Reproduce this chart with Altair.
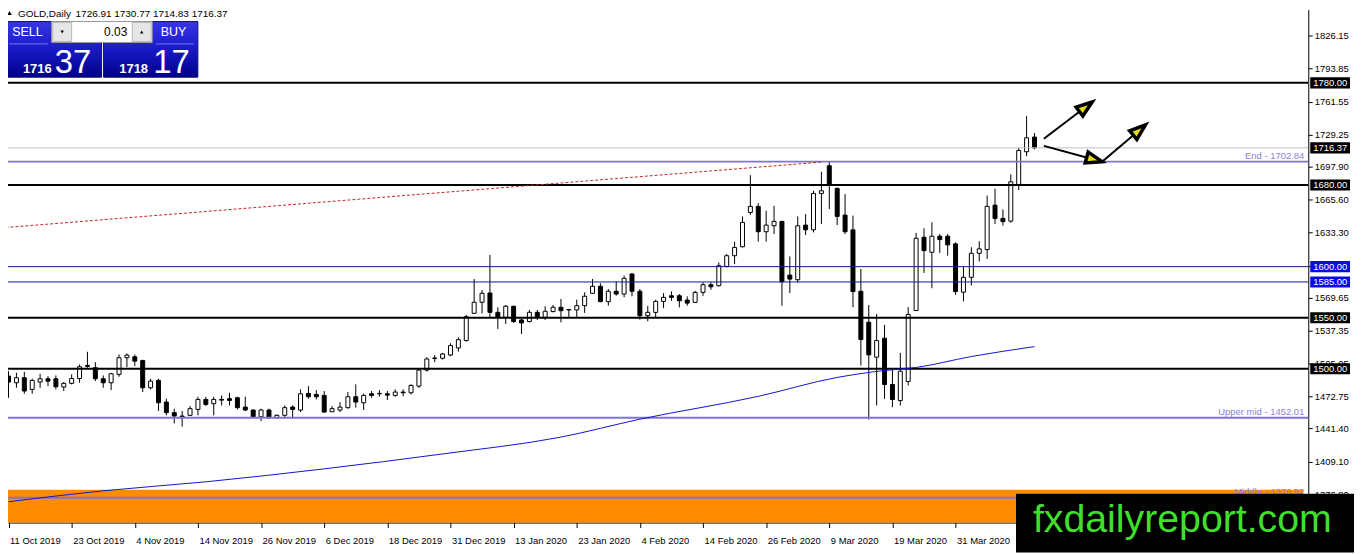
import math
import pandas as pd
import altair as alt

# ---------------- data ----------------
date_labels = ["11 Oct 2019", "23 Oct 2019", "4 Nov 2019", "14 Nov 2019", "26 Nov 2019",
               "6 Dec 2019", "18 Dec 2019", "31 Dec 2019", "13 Jan 2020", "23 Jan 2020",
               "4 Feb 2020", "14 Feb 2020", "26 Feb 2020", "9 Mar 2020", "19 Mar 2020",
               "31 Mar 2020"]

opens = [1492.8, 1486.3, 1491.2, 1479.8, 1487.0, 1490.2, 1490.2, 1482.1, 1485.7, 1490.5,
         1503.3, 1501.0, 1490.2, 1486.3, 1494.5, 1510.8, 1511.7, 1508.2, 1481.4, 1488.6,
         1467.4, 1457.0, 1453.7, 1454.4, 1460.2, 1470.0, 1465.8, 1470.0, 1470.7, 1471.6,
         1462.5, 1459.6, 1453.0, 1459.6, 1452.0, 1454.4, 1462.5, 1459.6, 1475.9, 1474.9,
         1473.9, 1457.9, 1459.6, 1461.9, 1472.6, 1466.7, 1475.5, 1475.5, 1475.5, 1473.9,
         1477.2, 1476.5, 1483.0, 1498.7, 1510.0, 1510.3, 1513.5, 1520.4, 1527.6, 1554.3,
         1565.1, 1574.2, 1555.3, 1550.4, 1561.2, 1547.8, 1546.2, 1555.3, 1550.4, 1556.0,
         1560.2, 1558.0, 1557.6, 1561.8, 1573.9, 1580.8, 1565.7, 1575.9, 1573.2, 1592.8,
         1575.9, 1552.0, 1555.2, 1566.0, 1571.5, 1571.5, 1567.3, 1565.0, 1574.8, 1582.3,
         1581.3, 1600.2, 1610.7, 1619.5, 1653.1, 1659.0, 1634.2, 1640.1, 1644.3, 1591.7,
         1587.2, 1640.7, 1636.1, 1671.7, 1698.8, 1676.6, 1650.5, 1636.0, 1575.9, 1545.6,
         1511.3, 1529.9, 1484.6, 1468.9, 1487.5, 1557.0, 1628.8, 1614.1, 1629.8, 1629.8,
         1622.3, 1575.0, 1589.6, 1613.1, 1616.7, 1660.2, 1647.3, 1644.6, 1680.5, 1712.5,
         1726.91]
highs = [1497.7, 1496.1, 1497.0, 1490.2, 1495.1, 1492.8, 1493.5, 1487.0, 1494.5, 1504.2,
         1516.6, 1506.5, 1493.5, 1496.1, 1514.0, 1515.0, 1514.0, 1508.2, 1490.2, 1490.2,
         1470.7, 1460.9, 1458.6, 1463.5, 1472.6, 1472.6, 1472.6, 1473.9, 1476.5, 1472.6,
         1472.6, 1460.2, 1460.9, 1460.9, 1455.3, 1464.1, 1464.1, 1479.8, 1483.0, 1479.1,
         1478.2, 1463.5, 1467.4, 1477.2, 1484.7, 1475.9, 1478.2, 1479.1, 1478.2, 1479.8,
         1479.8, 1484.7, 1500.0, 1511.3, 1513.5, 1515.5, 1525.0, 1530.8, 1552.7, 1587.9,
         1577.2, 1611.4, 1560.2, 1562.5, 1561.8, 1548.8, 1557.6, 1557.6, 1561.2, 1562.5,
         1568.4, 1558.6, 1567.7, 1574.9, 1587.9, 1583.7, 1578.1, 1585.6, 1591.2, 1593.8,
         1578.1, 1561.5, 1567.6, 1574.1, 1575.8, 1573.1, 1570.9, 1576.4, 1584.6, 1584.6,
         1604.1, 1612.3, 1624.4, 1649.2, 1689.6, 1662.2, 1654.7, 1659.6, 1644.9, 1610.0,
         1649.2, 1651.5, 1674.3, 1692.9, 1702.7, 1677.6, 1671.0, 1650.0, 1597.8, 1562.5,
         1553.7, 1543.0, 1499.9, 1515.6, 1560.3, 1633.0, 1637.6, 1643.5, 1632.0, 1632.0,
         1623.9, 1600.4, 1619.0, 1624.9, 1669.6, 1676.3, 1656.0, 1690.3, 1716.4, 1747.4,
         1730.77]
lows = [1471.6, 1481.4, 1475.5, 1475.5, 1481.4, 1483.0, 1479.8, 1478.2, 1484.7, 1486.3,
        1501.0, 1487.9, 1481.4, 1479.1, 1492.2, 1501.6, 1502.6, 1477.2, 1479.8, 1458.6,
        1454.4, 1446.5, 1443.3, 1453.7, 1454.4, 1463.5, 1454.4, 1464.1, 1464.1, 1460.2,
        1458.6, 1452.0, 1448.8, 1451.0, 1451.0, 1452.0, 1451.0, 1457.6, 1470.7, 1470.0,
        1457.0, 1457.6, 1457.6, 1460.9, 1461.9, 1459.6, 1471.6, 1472.6, 1469.3, 1472.6,
        1473.0, 1474.9, 1481.4, 1497.2, 1506.4, 1509.0, 1512.2, 1516.8, 1526.6, 1553.7,
        1554.3, 1550.4, 1539.0, 1543.9, 1544.9, 1534.1, 1545.5, 1547.8, 1547.8, 1555.3,
        1545.5, 1550.4, 1550.4, 1554.7, 1573.2, 1565.1, 1561.8, 1571.6, 1570.0, 1571.0,
        1548.1, 1546.5, 1550.3, 1559.4, 1566.6, 1560.1, 1561.7, 1564.3, 1571.5, 1577.4,
        1580.6, 1599.2, 1602.5, 1618.8, 1650.5, 1624.4, 1624.4, 1631.9, 1561.7, 1574.1,
        1584.6, 1630.9, 1633.5, 1641.7, 1656.4, 1640.7, 1631.9, 1560.3, 1503.2, 1450.3,
        1464.0, 1470.5, 1462.4, 1464.0, 1483.6, 1557.0, 1593.9, 1578.9, 1613.4, 1610.8,
        1572.3, 1566.1, 1581.5, 1605.0, 1607.6, 1641.8, 1640.3, 1643.0, 1675.0, 1708.2,
        1714.83]
closes = [1487.0, 1491.2, 1478.2, 1488.6, 1490.2, 1487.9, 1482.4, 1485.7, 1490.5, 1502.0,
          1502.3, 1490.2, 1486.3, 1495.1, 1510.8, 1513.4, 1507.5, 1481.4, 1487.9, 1466.7,
          1457.0, 1453.7, 1453.0, 1460.9, 1470.0, 1465.1, 1470.0, 1469.3, 1469.0, 1461.9,
          1459.6, 1453.0, 1459.6, 1452.0, 1454.4, 1461.9, 1460.2, 1475.5, 1472.6, 1472.6,
          1457.6, 1460.9, 1462.5, 1472.6, 1467.4, 1473.9, 1473.9, 1475.9, 1474.2, 1477.2,
          1476.5, 1483.7, 1498.7, 1509.6, 1510.6, 1514.5, 1522.7, 1528.5, 1551.0, 1565.1,
          1573.9, 1555.3, 1550.4, 1561.2, 1546.2, 1544.9, 1555.3, 1550.4, 1556.3, 1560.2,
          1556.9, 1557.6, 1561.8, 1571.0, 1580.8, 1565.7, 1575.9, 1573.2, 1588.6, 1575.9,
          1552.0, 1555.3, 1566.0, 1569.9, 1569.9, 1566.6, 1564.3, 1574.8, 1582.3, 1580.3,
          1600.9, 1610.7, 1618.8, 1643.3, 1659.0, 1634.2, 1640.7, 1644.3, 1585.2, 1587.8,
          1640.0, 1636.1, 1671.7, 1674.3, 1680.8, 1649.2, 1634.2, 1575.6, 1528.6, 1513.6,
          1527.6, 1484.6, 1469.9, 1497.6, 1553.1, 1627.8, 1615.7, 1629.8, 1626.5, 1621.3,
          1575.6, 1589.6, 1613.1, 1617.4, 1659.1, 1647.2, 1644.1, 1683.1, 1713.8, 1726.2,
          1716.37]

# moving average (read at several bars)
ma_bar = [0, 12, 25, 40, 55, 70, 80, 95, 105, 111, 115, 122, 130]
ma_val = [1369.8, 1380.5, 1389.3, 1402.0, 1416.6, 1433.1, 1450.6, 1473.0, 1491.5,
          1498.3, 1501.3, 1512.0, 1521.7]

# dotted trend line
trend_bar = [-1, 103]
trend_val = [1637.9, 1702.4]

black_levels = [1780.0, 1680.0, 1550.0, 1500.0]
navy_levels = [1600.0, 1585.0]
fibo_levels = [1702.84, 1452.01, 1373.7]
fibo_names = ["End - 1702.84", "Upper mid - 1452.01", "Middle - 1376.52"]
current_price = 1716.37
zone_top = 1381.5

ytick_values = [1826.15, 1793.85, 1761.55, 1729.25, 1697.90, 1665.60, 1633.30, 1601.00,
                1569.65, 1537.35, 1505.05, 1472.75, 1441.40, 1409.10, 1376.80]

tag_values = [1780.00, 1716.37, 1680.00, 1600.00, 1585.00, 1550.00, 1500.00]
tag_kind = ["level", "bid", "level", "blue", "blue", "level", "level"]

# hand-drawn arrows (bar index, price)
arr_x1 = [131.19, 131.19, 138.56]
arr_y1 = [1725.2, 1718.3, 1702.8]
arr_x2 = [137.31, 138.56, 144.06]
arr_y2 = [1761.2, 1702.8, 1738.8]

symbol_title = "GOLD,Daily"
lot = "0.03"
sell_big, sell_small = "1716", "37"
buy_big, buy_small = "1718", "17"
logo_text = "fxdailyreport.com"

# ---------------- layout ----------------
W, H = 1308, 516
X_DOM = [0.5625, 164.0625]
Y_DOM = [1349.4, 1851.7]
px_per_bar = W / (X_DOM[1] - X_DOM[0])
px_per_price = H / (Y_DOM[1] - Y_DOM[0])
FONT = "Liberation Sans"

xs = alt.Scale(domain=X_DOM, zero=False, nice=False)
ys = alt.Scale(domain=Y_DOM, zero=False, nice=False)

n = len(opens)
candles = pd.DataFrame({
    "i": list(range(n)), "o": opens, "h": highs, "l": lows, "c": closes,
})
candles["fill"] = ["#ffffff" if c >= o else "#000000" for o, c in zip(opens, closes)]

label_js = "[" + ",".join("'" + s + "'" for s in date_labels) + "]"
x_axis = alt.Axis(values=list(range(0, 8 * len(date_labels), 8)),
                  labelExpr=label_js + "[floor(datum.value / 8)]",
                  title=None, grid=False, orient="bottom", tickSize=5,
                  tickColor="black", domainColor="black", labelAlign="left",
                  labelBaseline="top", labelPadding=8, labelFont=FONT,
                  labelFontSize=9.5, labelColor="black", labelOffset=1,
                  labelOverlap=False, labelFlush=False)
y_axis = alt.Axis(orient="right", values=ytick_values, format=".2f", title=None,
                  grid=False, tickSize=4, tickColor="black", domainColor="black",
                  labelPadding=2, labelFont=FONT, labelFontSize=9.5, labelColor="black",
                  labelOverlap=False, labelFlush=False)


def X(field):
    return alt.X(field, scale=xs, axis=x_axis)


def Y(field):
    return alt.Y(field, scale=ys, axis=y_axis)


one = pd.DataFrame({"k": [0]})

zone = alt.Chart(pd.DataFrame({"x1": [-1.0], "x2": [X_DOM[1]], "y1": [zone_top], "y2": [Y_DOM[0]]})).mark_rect(
    color="#ff8c00").encode(x=X("x1:Q"), x2="x2:Q", y=Y("y1:Q"), y2="y2:Q")

wicks = alt.Chart(candles).mark_rule(color="black", strokeWidth=1).encode(
    x=X("i:Q"), y=Y("l:Q"), y2="h:Q")

bodies = alt.Chart(candles).mark_bar(size=4, stroke="black", strokeWidth=1).encode(
    x=X("i:Q"), y=Y("o:Q"), y2="c:Q", fill=alt.Fill("fill:N", scale=None))

bid_line = alt.Chart(pd.DataFrame({"v": [current_price]})).mark_rule(
    color="#c0c0c0", strokeWidth=1).encode(y=Y("v:Q"))
navy_lines = alt.Chart(pd.DataFrame({"v": navy_levels})).mark_rule(
    color="#14148c", strokeWidth=1).encode(y=Y("v:Q"))
black_lines = alt.Chart(pd.DataFrame({"v": black_levels})).mark_rule(
    color="black", strokeWidth=2).encode(y=Y("v:Q"))
fibo_df = pd.DataFrame({"v": fibo_levels, "name": fibo_names})
fibo_lines = alt.Chart(fibo_df).mark_rule(color="#7f74d6", strokeWidth=2).encode(y=Y("v:Q"))
fibo_text = alt.Chart(fibo_df).mark_text(
    align="right", baseline="bottom", dy=-1, font=FONT, fontSize=9.5, color="#8a7fdc").encode(
    x=alt.value(1304), y=Y("v:Q"), text="name:N")

ma = alt.Chart(pd.DataFrame({"b": ma_bar, "v": ma_val})).mark_line(
    color="#1414c8", strokeWidth=1, interpolate="monotone").encode(x=X("b:Q"), y=Y("v:Q"))
trend = alt.Chart(pd.DataFrame({"b": trend_bar, "v": trend_val})).mark_line(
    color="#c02828", strokeWidth=1, strokeDash=[3, 2]).encode(x=X("b:Q"), y=Y("v:Q"))

ang = []
for a, b, c, d in zip(arr_x1, arr_y1, arr_x2, arr_y2):
    dx = (c - a) * px_per_bar
    dy = -(d - b) * px_per_price
    ang.append(math.degrees(math.atan2(dx, -dy)) % 360)
arrows_df = pd.DataFrame({"x1": arr_x1, "y1": arr_y1, "x2": arr_x2, "y2": arr_y2, "ang": ang})
shafts = alt.Chart(arrows_df).mark_rule(color="black", strokeWidth=2).encode(
    x=X("x1:Q"), y=Y("y1:Q"), x2="x2:Q", y2="y2:Q")
heads = alt.Chart(arrows_df).mark_point(
    shape="M0,0L0.7,2L-0.7,2Z", size=256, filled=True, fill="#e2da1a",
    stroke="black", strokeWidth=3.5, strokeJoin="miter", opacity=1).encode(
    x=X("x2:Q"), y=Y("y2:Q"), angle=alt.Angle("ang:Q", scale=None))

tag_col = {"level": "#000000", "bid": "#000000", "blue": "#0a0ae6"}
tags_df = pd.DataFrame({"v": tag_values, "col": [tag_col[k] for k in tag_kind],
                        "txt": ["%.2f" % v for v in tag_values]})
tag_box = alt.Chart(tags_df).mark_point(
    shape="M0,-0.28L2,-0.28L2,0.28L0,0.28Z", size=1600, filled=True, strokeWidth=0,
    opacity=1).encode(x=alt.value(1310), y=Y("v:Q"), fill=alt.Fill("col:N", scale=None))
tag_txt = alt.Chart(tags_df).mark_text(
    align="left", baseline="middle", font=FONT, fontSize=9.5, color="white").encode(
    x=alt.value(1313), y=Y("v:Q"), text="txt:N")


# ---------------- header and trade panel ----------------
def rect(x1, x2, y1, y2, **kw):
    return alt.Chart(one).mark_rect(**kw).encode(
        x=alt.value(x1), x2=alt.value(x2), y=alt.value(y1), y2=alt.value(y2))


def txt(s, x, y, **kw):
    return alt.Chart(one).mark_text(text=s, **kw).encode(x=alt.value(x), y=alt.value(y))


header_vals = " ".join("%.2f" % v for v in [opens[-1], highs[-1], lows[-1], closes[-1]])
hdr_tri = alt.Chart(one).mark_point(shape="triangle-up", size=22, filled=True,
                                    color="black", opacity=1).encode(
    x=alt.value(1.5), y=alt.value(3.5))
hdr1 = txt(symbol_title, 10, 4.5, align="left", baseline="middle", font=FONT,
           fontSize=10, color="black")
hdr2 = txt(header_vals, 68, 4.5, align="left", baseline="middle", font=FONT,
           fontSize=10, color="black")

grad = {"gradient": "linear", "x1": 0, "y1": 0, "x2": 0, "y2": 1,
        "stops": [{"offset": 0, "color": "#3636e4"},
                  {"offset": 0.45, "color": "#1c1ccc"},
                  {"offset": 1, "color": "#00008a"}]}
sell_box = rect(-2, 94, 12, 68, fill=grad, stroke="#101070", strokeWidth=1)
buy_box = rect(96, 191, 12, 68, fill=grad, stroke="#101070", strokeWidth=1)
spin = rect(44, 145, 12, 33, fill="white", stroke="#9a9a9a", strokeWidth=1)
btn1 = rect(45, 64, 13, 32, fill="#e6e6e6", stroke="#b8b8b8", strokeWidth=1)
btn2 = rect(125, 144, 13, 32, fill="#e6e6e6", stroke="#b8b8b8", strokeWidth=1)
dn = alt.Chart(one).mark_point(shape="triangle-down", size=12, filled=True,
                               color="black", opacity=1).encode(
    x=alt.value(54.5), y=alt.value(22.5))
up = alt.Chart(one).mark_point(shape="triangle-up", size=12, filled=True,
                               color="black", opacity=1).encode(
    x=alt.value(134.5), y=alt.value(22.5))
lot_t = txt(lot, 120, 22.5, align="right", baseline="middle", font=FONT, fontSize=12,
            color="black")
sell_t = txt("SELL", 19.5, 22.5, align="center", baseline="middle", font=FONT,
             fontSize=12.5, color="white")
buy_t = txt("BUY", 166.5, 22.5, align="center", baseline="middle", font=FONT,
            fontSize=12.5, color="white")
sep1 = alt.Chart(one).mark_rule(color="#7474f0", strokeWidth=1).encode(
    x=alt.value(1), x2=alt.value(40), y=alt.value(34.5))
sep2 = alt.Chart(one).mark_rule(color="#7474f0", strokeWidth=1).encode(
    x=alt.value(149), x2=alt.value(187), y=alt.value(34.5))
s_big = txt(sell_big, 15, 64, align="left", baseline="alphabetic", font=FONT,
            fontSize=13, fontWeight="bold", color="white")
s_small = txt(sell_small, 47, 64, align="left", baseline="alphabetic", font=FONT,
              fontSize=33, color="white")
b_big = txt(buy_big, 112, 64, align="left", baseline="alphabetic", font=FONT,
            fontSize=13, fontWeight="bold", color="white")
b_small = txt(buy_small, 146, 64, align="left", baseline="alphabetic", font=FONT,
              fontSize=33, color="white")

logo_box = rect(1014, 1354, 487, 546, fill="black")
logo_t = txt(logo_text, 1031, 525, align="left", baseline="alphabetic", font=FONT,
             fontSize=39.5, color="#3fdf2c")

chart = alt.layer(
    zone, wicks, bodies, bid_line, navy_lines, black_lines, fibo_lines, ma, trend,
    fibo_text, shafts, heads, tag_box, tag_txt,
    hdr_tri, hdr1, hdr2, sell_box, buy_box, spin, btn1, btn2, dn, up, lot_t, sell_t,
    buy_t, sep1, sep2, s_big, s_small, b_big, b_small, logo_box, logo_t
).properties(
    width=W, height=H,
    autosize=alt.AutoSizeParams(type="none"),
    padding={"left": 0, "top": 0, "right": 46, "bottom": 30},
    background="white",
).configure_view(stroke=None)

chart.save("out.html", embed_options={"renderer": "svg", "actions": False})
